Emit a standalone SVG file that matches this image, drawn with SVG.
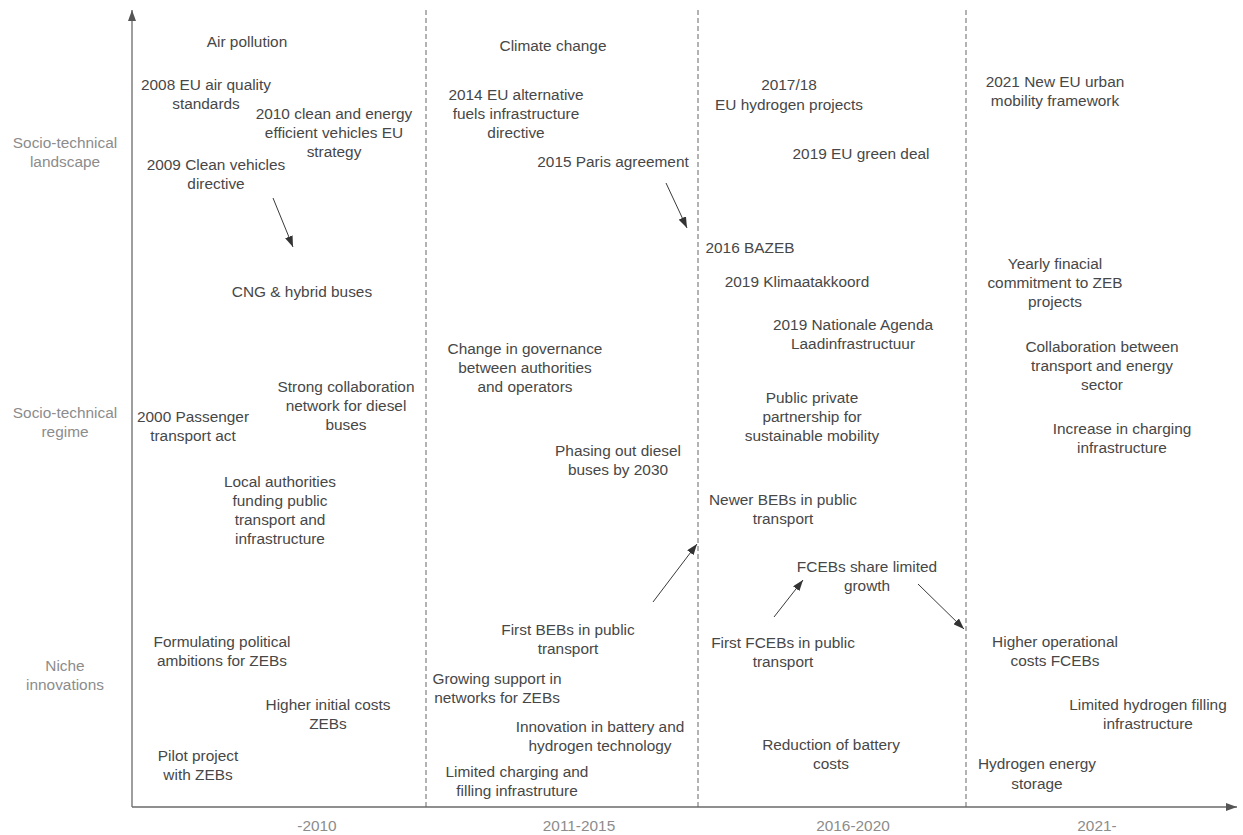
<svg xmlns="http://www.w3.org/2000/svg" width="1243" height="835" viewBox="0 0 1243 835">
<style>
text{font-family:"Liberation Sans",Arial,sans-serif;font-size:15.4px;fill:#474747;text-anchor:middle}
.ax{fill:#8c8c8c}
.axis{stroke:#6a6a6a;stroke-width:1.3;fill:none}
.dash{stroke:#666;stroke-width:1;stroke-dasharray:5,3;fill:none}
.con{stroke:#3a3a3a;stroke-width:1;fill:none}
</style>
<defs>
<marker id="ah" markerUnits="userSpaceOnUse" markerWidth="11" markerHeight="8" refX="11" refY="4" orient="auto"><path d="M0,0 L11,4 L0,8 z" fill="#333"/></marker>
<marker id="axh" markerUnits="userSpaceOnUse" markerWidth="11" markerHeight="8" refX="11" refY="4" orient="auto"><path d="M0,0 L11,4 L0,8 z" fill="#555"/></marker>
</defs>
<rect width="1243" height="835" fill="#fff"/>
<g id="axes">
<line class="axis" x1="132" y1="807" x2="132" y2="10" marker-end="url(#axh)"/>
<line class="axis" x1="132" y1="807" x2="1237" y2="807" marker-end="url(#axh)"/>
<line class="dash" x1="426" y1="10" x2="426" y2="807"/>
<line class="dash" x1="698" y1="10" x2="698" y2="807"/>
<line class="dash" x1="966" y1="10" x2="966" y2="807"/>
</g>
<g id="labels">
<text class="ax" x="65" y="148"><tspan x="65">Socio-technical</tspan><tspan x="65" dy="19">landscape</tspan></text>
<text class="ax" x="65" y="418"><tspan x="65">Socio-technical</tspan><tspan x="65" dy="19">regime</tspan></text>
<text class="ax" x="65" y="671"><tspan x="65">Niche</tspan><tspan x="65" dy="19">innovations</tspan></text>
<text class="ax" x="317" y="831">-2010</text>
<text class="ax" x="579" y="831">2011-2015</text>
<text class="ax" x="853" y="831">2016-2020</text>
<text class="ax" x="1097" y="831">2021-</text>
</g>
<g id="connectors">
<line class="con" x1="273" y1="198" x2="293" y2="247" marker-end="url(#ah)"/>
<line class="con" x1="666" y1="183" x2="687" y2="228" marker-end="url(#ah)"/>
<line class="con" x1="653" y1="602" x2="697" y2="544" marker-end="url(#ah)"/>
<line class="con" x1="774" y1="617" x2="803" y2="580" marker-end="url(#ah)"/>
<line class="con" x1="918" y1="584" x2="964" y2="629" marker-end="url(#ah)"/>
</g>
<g id="n-air-pollution"><text x="247" y="47">Air pollution</text></g>
<g id="n-2008"><text y="90"><tspan x="206">2008 EU air quality</tspan><tspan x="206" dy="19">standards</tspan></text></g>
<g id="n-2010"><text y="119"><tspan x="334">2010 clean and energy</tspan><tspan x="334" dy="19">efficient vehicles EU</tspan><tspan x="334" dy="19">strategy</tspan></text></g>
<g id="n-2009"><text y="170"><tspan x="216">2009 Clean vehicles</tspan><tspan x="216" dy="19">directive</tspan></text></g>
<g id="n-cng"><text x="302" y="297">CNG &amp; hybrid buses</text></g>
<g id="n-strong"><text y="392"><tspan x="346">Strong collaboration</tspan><tspan x="346" dy="19">network for diesel</tspan><tspan x="346" dy="19">buses</tspan></text></g>
<g id="n-2000"><text y="422"><tspan x="193">2000 Passenger</tspan><tspan x="193" dy="19">transport act</tspan></text></g>
<g id="n-local"><text y="487"><tspan x="280">Local authorities</tspan><tspan x="280" dy="19">funding public</tspan><tspan x="280" dy="19">transport and</tspan><tspan x="280" dy="19">infrastructure</tspan></text></g>
<g id="n-formulating"><text y="647"><tspan x="222">Formulating political</tspan><tspan x="222" dy="19">ambitions for ZEBs</tspan></text></g>
<g id="n-higher-initial"><text y="710"><tspan x="328">Higher initial costs</tspan><tspan x="328" dy="19">ZEBs</tspan></text></g>
<g id="n-pilot"><text y="761"><tspan x="198">Pilot project</tspan><tspan x="198" dy="19">with ZEBs</tspan></text></g>
<g id="n-climate"><text x="553" y="51">Climate change</text></g>
<g id="n-2014"><text y="100"><tspan x="516">2014 EU alternative</tspan><tspan x="516" dy="19">fuels infrastructure</tspan><tspan x="516" dy="19">directive</tspan></text></g>
<g id="n-paris"><text x="613" y="167">2015 Paris agreement</text></g>
<g id="n-governance"><text y="354"><tspan x="525">Change in governance</tspan><tspan x="525" dy="19">between authorities</tspan><tspan x="525" dy="19">and operators</tspan></text></g>
<g id="n-phasing"><text y="456"><tspan x="618">Phasing out diesel</tspan><tspan x="618" dy="19">buses by 2030</tspan></text></g>
<g id="n-first-bebs"><text y="635"><tspan x="568">First BEBs in public</tspan><tspan x="568" dy="19">transport</tspan></text></g>
<g id="n-growing"><text y="684"><tspan x="497">Growing support in</tspan><tspan x="497" dy="19">networks for ZEBs</tspan></text></g>
<g id="n-innovation"><text y="732"><tspan x="600">Innovation in battery and</tspan><tspan x="600" dy="19">hydrogen technology</tspan></text></g>
<g id="n-limited-charging"><text y="777"><tspan x="517">Limited charging and</tspan><tspan x="517" dy="19">filling infrastruture</tspan></text></g>
<g id="n-2017"><text y="90"><tspan x="789">2017/18</tspan><tspan x="789" dy="20">EU hydrogen projects</tspan></text></g>
<g id="n-greendeal"><text x="861" y="159">2019 EU green deal</text></g>
<g id="n-bazeb"><text x="750" y="253">2016 BAZEB</text></g>
<g id="n-klimaat"><text x="797" y="287">2019 Klimaatakkoord</text></g>
<g id="n-nationale"><text y="330"><tspan x="853">2019 Nationale Agenda</tspan><tspan x="853" dy="19">Laadinfrastructuur</tspan></text></g>
<g id="n-ppp"><text y="403"><tspan x="812">Public private</tspan><tspan x="812" dy="19">partnership for</tspan><tspan x="812" dy="19">sustainable mobility</tspan></text></g>
<g id="n-newer-bebs"><text y="505"><tspan x="783">Newer BEBs in public</tspan><tspan x="783" dy="19">transport</tspan></text></g>
<g id="n-fcebs-share"><text y="572"><tspan x="867">FCEBs share limited</tspan><tspan x="867" dy="19">growth</tspan></text></g>
<g id="n-first-fcebs"><text y="648"><tspan x="783">First FCEBs in public</tspan><tspan x="783" dy="19">transport</tspan></text></g>
<g id="n-reduction"><text y="750"><tspan x="831">Reduction of battery</tspan><tspan x="831" dy="19">costs</tspan></text></g>
<g id="n-2021"><text y="87"><tspan x="1055">2021 New EU urban</tspan><tspan x="1055" dy="19">mobility framework</tspan></text></g>
<g id="n-yearly"><text y="269"><tspan x="1055">Yearly finacial</tspan><tspan x="1055" dy="19">commitment to ZEB</tspan><tspan x="1055" dy="19">projects</tspan></text></g>
<g id="n-collab"><text y="352"><tspan x="1102">Collaboration between</tspan><tspan x="1102" dy="19">transport and energy</tspan><tspan x="1102" dy="19">sector</tspan></text></g>
<g id="n-increase"><text y="434"><tspan x="1122">Increase in charging</tspan><tspan x="1122" dy="19">infrastructure</tspan></text></g>
<g id="n-higher-op"><text y="647"><tspan x="1055">Higher operational</tspan><tspan x="1055" dy="19">costs FCEBs</tspan></text></g>
<g id="n-limited-h2"><text y="710"><tspan x="1148">Limited hydrogen filling</tspan><tspan x="1148" dy="19">infrastructure</tspan></text></g>
<g id="n-h2-storage"><text y="769"><tspan x="1037">Hydrogen energy</tspan><tspan x="1037" dy="20">storage</tspan></text></g>
</svg>
